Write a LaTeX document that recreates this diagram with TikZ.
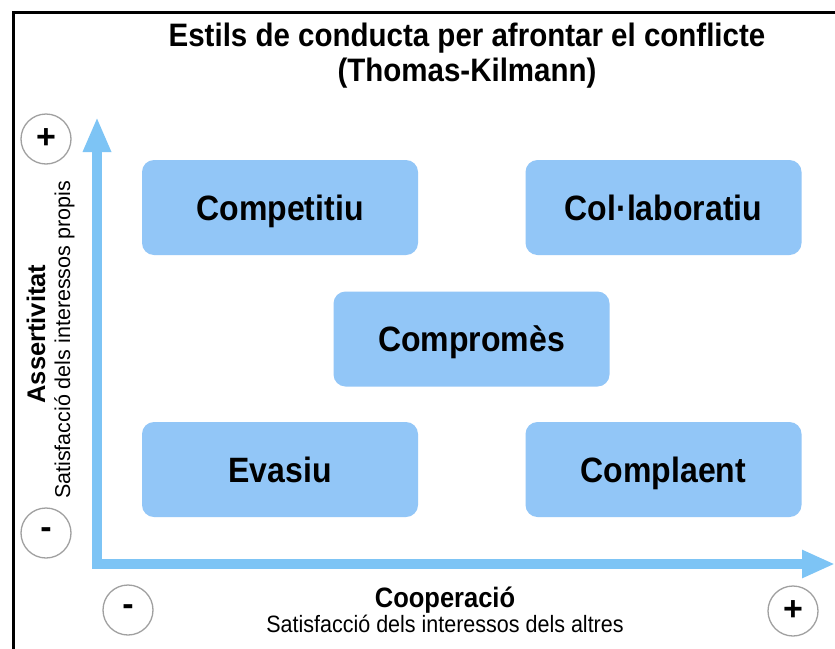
\documentclass[tikz,border=0pt]{standalone}
\usepackage{fontspec}
\usepackage{graphicx}
\setmainfont{Liberation Sans}
\usetikzlibrary{arrows.meta}
\definecolor{boxblue}{RGB}{146,198,247}
\definecolor{axisblue}{RGB}{125,196,245}
\definecolor{ringgray}{RGB}{160,160,160}
\newcommand{\talltext}[1]{\scalebox{1}[1.1]{#1}}
\begin{document}
\begin{tikzpicture}[x=1pt,y=-1pt,
  stylebox/.style={fill=boxblue, rounded corners=12pt, minimum width=276pt, minimum height=95pt, inner sep=0pt,
    font=\fontsize{32}{38}\selectfont\bfseries, text height=25pt, text depth=0pt},
  ring/.style={circle, draw=ringgray, line width=1.3pt, minimum size=50pt, inner sep=0pt,
    font=\fontsize{34}{38}\selectfont\bfseries},
  axis/.style={draw=axisblue, line width=10.5pt, line join=miter,
    {Triangle[width=26pt,length=35pt]}-{Triangle[width=26pt,length=33pt]}},
  titlefont/.style={font=\fontsize{29.5}{34}\selectfont\bfseries},
  axbold/.style={font=\fontsize{25.5}{30}\selectfont\bfseries},
  axreg/.style={font=\fontsize{21.5}{26}\selectfont},
 ]
\useasboundingbox (0,0) rectangle (835,648);
\fill[white] (0,0) rectangle (835,648);
\draw[line width=3pt] (13,680) -- (13,12) -- (860,12);

% title
\node[titlefont, anchor=base] (t1) at (467,46) {\talltext{Estils de conducta per afrontar el conflicte}};
\node[titlefont, anchor=base] (t2) at (467,81) {\talltext{(Thomas-Kilmann)}};

% axes
\coordinate (ytop) at (97,117);
\coordinate (xend) at (835,564);
\draw[axis] (ytop) |- (xend);

% boxes
\node[stylebox] (comp) at (280,207.5) {\talltext{Competitiu}};
\node[stylebox] (colab) at (663.5,207.5) {\talltext{Col·laboratiu}};
\node[stylebox] (compr) at (471.5,339) {\talltext{Compromès}};
\node[stylebox] (evas) at (280,469.5) {\talltext{Evasiu}};
\node[stylebox] (compl) at (663.5,469.5) {\talltext{Complaent}};

% rings
\node[ring] (plusY) at (46,139) {+};
\node[ring] (minusY) at (46,533) {-};
\node[ring] (minusX) at (128,610) {-};
\node[ring] (plusX) at (793,611) {+};

% axis labels
\node[axbold, rotate=90, anchor=base] (ass) at (45,334) {Assertivitat};
\node[axreg, rotate=90, anchor=base] (assd) at (70,340) {Satisfacció dels interessos propis};
\node[axbold, anchor=base] (coop) at (445,607) {\talltext{Cooperació}};
\node[axreg, anchor=base] (coopd) at (445,632) {\talltext{Satisfacció dels interessos dels altres}};
\end{tikzpicture}
\end{document}
